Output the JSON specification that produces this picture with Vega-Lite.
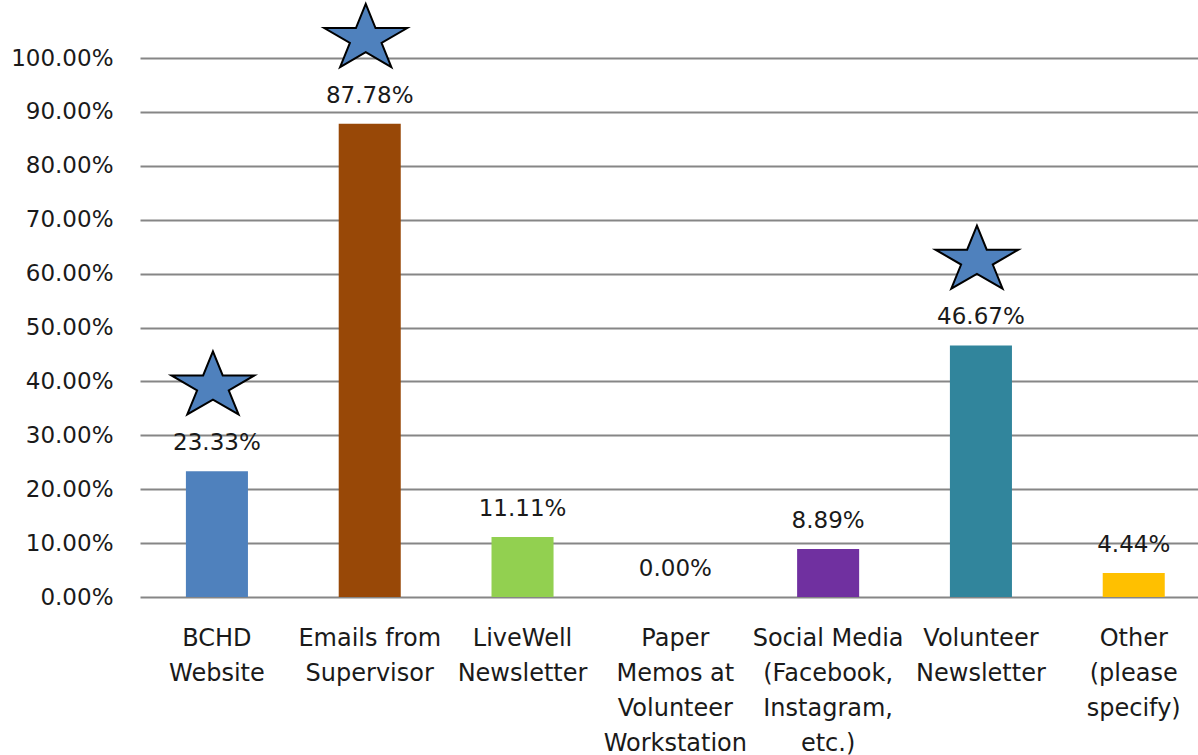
{
  "$schema": "https://vega.github.io/schema/vega-lite/v6.json",
  "autosize": {"type": "none"},
  "width": 1058,
  "height": 539,
  "padding": {"left": 140, "top": 58, "right": 0, "bottom": 158},
  "background": "white",
  "config": {"view": {"stroke": null}, "font": "DejaVu Sans"},
  "data": {"values": [
    {"category": "BCHD Website", "value": 0.2333, "star": true, "color": "#4F81BD"},
    {"category": "Emails from Supervisor", "value": 0.8778, "star": true, "color": "#984807"},
    {"category": "LiveWell Newsletter", "value": 0.1111, "star": false, "color": "#92D050"},
    {"category": "Paper Memos at Volunteer Workstation", "value": 0.0, "star": false, "color": "#4BACC6"},
    {"category": "Social Media (Facebook, Instagram, etc.)", "value": 0.0889, "star": false, "color": "#7030A0"},
    {"category": "Volunteer Newsletter", "value": 0.4667, "star": true, "color": "#31859C"},
    {"category": "Other (please specify)", "value": 0.0444, "star": false, "color": "#FFC000"}
  ]},
  "encoding": {
    "x": {
      "field": "category", "type": "nominal", "sort": null,
      "scale": {"paddingInner": 0.594, "paddingOuter": 0.259, "align": 0.58},
      "axis": {
        "title": null, "domain": false, "ticks": false, "labelAngle": 0,
        "labelFontSize": 24, "labelColor": "#1a1a1a", "labelLineHeight": 35,
        "labelPadding": 29, "labelLimit": 0, "labelBaseline": "top",
        "labelExpr": "{'BCHD Website':['BCHD','Website'],'Emails from Supervisor':['Emails from','Supervisor'],'LiveWell Newsletter':['LiveWell','Newsletter'],'Paper Memos at Volunteer Workstation':['Paper','Memos at','Volunteer','Workstation'],'Social Media (Facebook, Instagram, etc.)':['Social Media','(Facebook,','Instagram,','etc.)'],'Volunteer Newsletter':['Volunteer','Newsletter'],'Other (please specify)':['Other','(please','specify)']}[datum.value]"
      }
    },
    "y": {
      "field": "value", "type": "quantitative",
      "scale": {"domain": [0, 1], "nice": false},
      "axis": {
        "title": null, "domain": false, "ticks": false,
        "values": [0, 0.1, 0.2, 0.3, 0.4, 0.5, 0.6, 0.7, 0.8, 0.9, 1],
        "format": ".2%", "labelFontSize": 23, "labelColor": "#1a1a1a",
        "labelPadding": 27, "grid": true, "gridColor": "#868686", "gridWidth": 2
      }
    }
  },
  "layer": [
    {"mark": {"type": "bar"}, "encoding": {"color": {"field": "color", "type": "nominal", "scale": null}}},
    {"mark": {"type": "text", "fontSize": 23, "color": "#1a1a1a", "baseline": "middle", "dy": -28},
     "encoding": {"text": {"field": "value", "type": "quantitative", "format": ".2%"}}},
    {"transform": [{"filter": "datum.star"}],
     "mark": {"type": "point", "shape": "M0,-0.8 L0.2245,-0.247 L0.951,-0.247 L0.363,0.094 L0.588,0.647 L0,0.306 L-0.588,0.647 L-0.363,0.094 L-0.951,-0.247 L-0.2245,-0.247 Z",
              "size": 7600, "filled": true, "fill": "#4F81BD", "stroke": "#000000", "strokeWidth": 2, "opacity": 1, "yOffset": -85, "xOffset": -4}}
  ]
}
